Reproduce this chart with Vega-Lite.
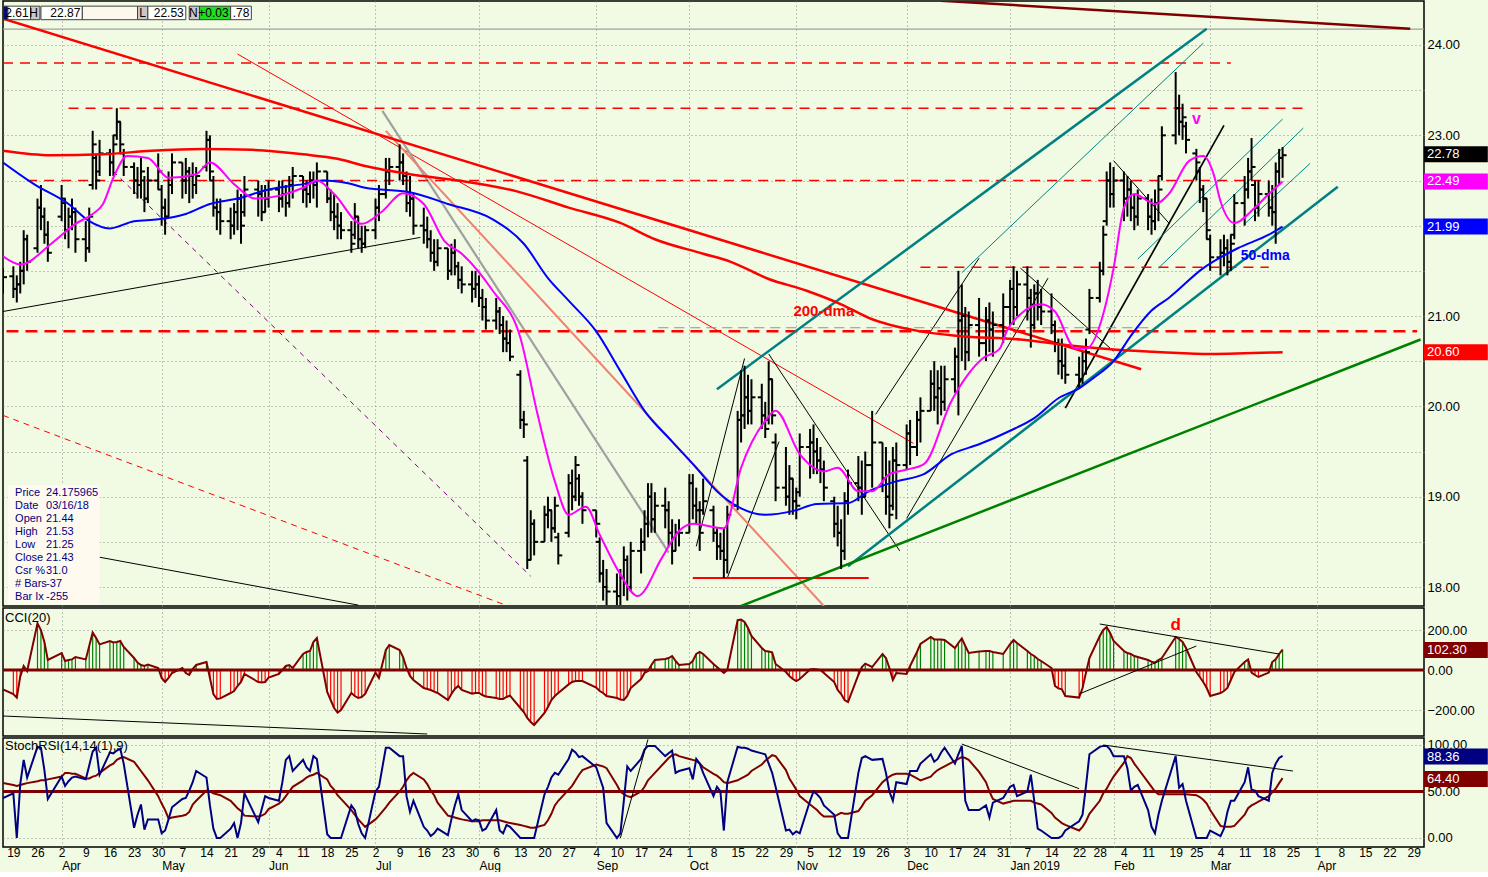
{
"$schema":"https://vega.github.io/schema/vega-lite/v6.json",
"padding":0,
"background":"#F1FBE3",
"spacing":0,
"config":{"view":{"stroke":"#000000","strokeWidth":1.5},"font":"Liberation Sans","axis":{"labelFont":"Liberation Sans","labelFontSize":13,"labelColor":"#000000"},"text":{"font":"Liberation Sans"}},
"datasets":{
"px":[
{"d":"2018-03-16","o":21.44,"h":21.53,"l":21.25,"c":21.43,"i":-97,"k":43,"s":59},
{"d":"2018-03-19","o":21.44,"h":21.55,"l":21.2,"c":21.3,"i":-120,"k":48,"s":57},
{"d":"2018-03-20","o":21.3,"h":21.45,"l":21.15,"c":21.35,"i":-138,"k":0,"s":56},
{"d":"2018-03-21","o":21.35,"h":21.6,"l":21.25,"c":21.5,"i":-33,"k":58,"s":57},
{"d":"2018-03-22","o":21.5,"h":21.95,"l":21.35,"c":21.85,"i":20,"k":84,"s":58},
{"d":"2018-03-23","o":21.85,"h":21.9,"l":21.5,"c":21.6,"i":-5,"k":65,"s":59},
{"d":"2018-03-26","o":21.75,"h":22.3,"l":21.7,"c":22.2,"i":233,"k":98,"s":61},
{"d":"2018-03-27","o":22.2,"h":22.45,"l":21.95,"c":22.1,"i":200,"k":97,"s":62},
{"d":"2018-03-28","o":22.1,"h":22.2,"l":21.8,"c":21.9,"i":140,"k":73,"s":62},
{"d":"2018-03-29","o":21.9,"h":22.05,"l":21.6,"c":21.7,"i":50,"k":42,"s":63},
{"d":"2018-04-02","o":22.1,"h":22.45,"l":22.05,"c":22.3,"i":85,"k":66,"s":66},
{"d":"2018-04-03","o":22.25,"h":22.3,"l":21.85,"c":21.95,"i":45,"k":56,"s":70},
{"d":"2018-04-04","o":21.95,"h":22.2,"l":21.75,"c":22.1,"i":50,"k":61,"s":70},
{"d":"2018-04-05","o":22.1,"h":22.3,"l":21.95,"c":22.15,"i":53,"k":65,"s":69},
{"d":"2018-04-06","o":22.15,"h":22.2,"l":21.7,"c":21.85,"i":65,"k":66,"s":69},
{"d":"2018-04-09","o":21.85,"h":22.05,"l":21.6,"c":21.75,"i":53,"k":63,"s":64},
{"d":"2018-04-10","o":21.75,"h":22.2,"l":21.7,"c":22.1,"i":120,"k":78,"s":64},
{"d":"2018-04-11","o":22.45,"h":23.05,"l":22.4,"c":22.9,"i":187,"k":93,"s":66},
{"d":"2018-04-12","o":22.75,"h":22.8,"l":22.4,"c":22.5,"i":160,"k":97,"s":67},
{"d":"2018-04-13","o":22.6,"h":22.95,"l":22.55,"c":22.8,"i":128,"k":68,"s":70},
{"d":"2018-04-16","o":22.8,"h":22.85,"l":22.55,"c":22.7,"i":145,"k":92,"s":78},
{"d":"2018-04-17","o":22.7,"h":23.0,"l":22.55,"c":22.9,"i":138,"k":91,"s":80},
{"d":"2018-04-18","o":23.0,"h":23.3,"l":22.95,"c":23.15,"i":140,"k":94,"s":84},
{"d":"2018-04-19","o":23.15,"h":23.15,"l":22.8,"c":22.9,"i":145,"k":96,"s":86},
{"d":"2018-04-20","o":22.8,"h":22.85,"l":22.55,"c":22.65,"i":115,"k":80,"s":87},
{"d":"2018-04-23","o":22.65,"h":22.7,"l":22.35,"c":22.5,"i":60,"k":11,"s":82},
{"d":"2018-04-24","o":22.5,"h":22.65,"l":22.3,"c":22.45,"i":37,"k":25,"s":77},
{"d":"2018-04-25","o":22.45,"h":22.75,"l":22.3,"c":22.6,"i":25,"k":36,"s":72},
{"d":"2018-04-26","o":22.5,"h":22.55,"l":22.15,"c":22.3,"i":20,"k":9,"s":67},
{"d":"2018-04-27","o":22.3,"h":22.65,"l":22.25,"c":22.5,"i":27,"k":20,"s":62},
{"d":"2018-04-30","o":22.5,"h":22.8,"l":22.4,"c":22.6,"i":10,"k":20,"s":45},
{"d":"2018-05-01","o":22.4,"h":22.45,"l":22.0,"c":22.2,"i":-40,"k":5,"s":37},
{"d":"2018-05-02","o":22.2,"h":22.3,"l":21.9,"c":22.1,"i":-60,"k":8,"s":30},
{"d":"2018-05-03","o":22.1,"h":22.6,"l":22.1,"c":22.45,"i":-40,"k":20,"s":21},
{"d":"2018-05-04","o":22.45,"h":22.8,"l":22.35,"c":22.7,"i":-15,"k":33,"s":22},
{"d":"2018-05-07","o":22.7,"h":22.7,"l":22.3,"c":22.5,"i":10,"k":42,"s":24},
{"d":"2018-05-08","o":22.5,"h":22.75,"l":22.35,"c":22.6,"i":-15,"k":43,"s":25},
{"d":"2018-05-09","o":22.6,"h":22.65,"l":22.25,"c":22.55,"i":-25,"k":51,"s":28},
{"d":"2018-05-10","o":22.55,"h":22.7,"l":22.3,"c":22.45,"i":5,"k":60,"s":36},
{"d":"2018-05-11","o":22.45,"h":22.65,"l":22.35,"c":22.55,"i":25,"k":72,"s":40},
{"d":"2018-05-14","o":22.65,"h":23.05,"l":22.6,"c":22.95,"i":40,"k":65,"s":51},
{"d":"2018-05-15","o":22.95,"h":23.0,"l":22.5,"c":22.6,"i":-40,"k":35,"s":50},
{"d":"2018-05-16","o":22.5,"h":22.55,"l":22.1,"c":22.2,"i":-120,"k":10,"s":48},
{"d":"2018-05-17","o":22.2,"h":22.3,"l":21.95,"c":22.15,"i":-145,"k":0,"s":47},
{"d":"2018-05-18","o":22.15,"h":22.3,"l":21.9,"c":22.05,"i":-142,"k":0,"s":46},
{"d":"2018-05-21","o":22.05,"h":22.2,"l":21.85,"c":22.0,"i":-115,"k":10,"s":40},
{"d":"2018-05-22","o":22.0,"h":22.25,"l":21.9,"c":22.15,"i":-105,"k":16,"s":36},
{"d":"2018-05-23","o":22.15,"h":22.4,"l":21.95,"c":22.3,"i":-80,"k":0,"s":32},
{"d":"2018-05-24","o":22.3,"h":22.35,"l":21.8,"c":22.0,"i":-60,"k":16,"s":29},
{"d":"2018-05-25","o":22.15,"h":22.55,"l":22.1,"c":22.4,"i":-20,"k":48,"s":24},
{"d":"2018-05-29","o":22.4,"h":22.5,"l":22.1,"c":22.35,"i":-60,"k":17,"s":23},
{"d":"2018-05-30","o":22.35,"h":22.45,"l":22.05,"c":22.15,"i":-63,"k":31,"s":24},
{"d":"2018-05-31","o":22.15,"h":22.45,"l":22.15,"c":22.3,"i":-60,"k":45,"s":26},
{"d":"2018-06-01","o":22.3,"h":22.5,"l":22.2,"c":22.4,"i":-38,"k":43,"s":31},
{"d":"2018-06-04","o":22.4,"h":22.5,"l":22.15,"c":22.3,"i":-20,"k":40,"s":37},
{"d":"2018-06-05","o":22.3,"h":22.5,"l":22.2,"c":22.35,"i":0,"k":60,"s":40},
{"d":"2018-06-06","o":22.35,"h":22.45,"l":22.1,"c":22.25,"i":20,"k":84,"s":45},
{"d":"2018-06-07","o":22.25,"h":22.55,"l":22.2,"c":22.45,"i":25,"k":88,"s":50},
{"d":"2018-06-08","o":22.45,"h":22.65,"l":22.3,"c":22.55,"i":10,"k":72,"s":55},
{"d":"2018-06-11","o":22.55,"h":22.55,"l":22.25,"c":22.4,"i":80,"k":84,"s":62},
{"d":"2018-06-12","o":22.4,"h":22.5,"l":22.2,"c":22.35,"i":90,"k":76,"s":65},
{"d":"2018-06-13","o":22.35,"h":22.6,"l":22.25,"c":22.5,"i":95,"k":72,"s":67},
{"d":"2018-06-14","o":22.5,"h":22.6,"l":22.3,"c":22.45,"i":140,"k":88,"s":68},
{"d":"2018-06-15","o":22.45,"h":22.7,"l":22.2,"c":22.6,"i":160,"k":85,"s":70},
{"d":"2018-06-18","o":22.6,"h":22.6,"l":22.25,"c":22.3,"i":-110,"k":4,"s":63},
{"d":"2018-06-19","o":22.3,"h":22.4,"l":22.05,"c":22.15,"i":-150,"k":0,"s":56},
{"d":"2018-06-20","o":22.15,"h":22.35,"l":21.95,"c":22.1,"i":-190,"k":0,"s":52},
{"d":"2018-06-21","o":22.1,"h":22.25,"l":21.85,"c":22.0,"i":-213,"k":0,"s":46},
{"d":"2018-06-22","o":22.0,"h":22.15,"l":21.85,"c":21.95,"i":-200,"k":0,"s":42},
{"d":"2018-06-25","o":21.95,"h":22.05,"l":21.7,"c":21.8,"i":-115,"k":35,"s":30},
{"d":"2018-06-26","o":21.9,"h":22.25,"l":21.85,"c":22.1,"i":-130,"k":30,"s":25},
{"d":"2018-06-27","o":22.1,"h":22.1,"l":21.75,"c":21.85,"i":-140,"k":15,"s":20},
{"d":"2018-06-28","o":21.85,"h":22.0,"l":21.7,"c":21.8,"i":-135,"k":5,"s":16},
{"d":"2018-06-29","o":21.8,"h":22.0,"l":21.75,"c":21.95,"i":-120,"k":0,"s":12},
{"d":"2018-07-02","o":21.95,"h":22.3,"l":21.85,"c":22.2,"i":-13,"k":50,"s":20},
{"d":"2018-07-03","o":22.2,"h":22.45,"l":22.05,"c":22.35,"i":-40,"k":55,"s":24},
{"d":"2018-07-05","o":22.35,"h":22.75,"l":22.3,"c":22.6,"i":100,"k":97,"s":33},
{"d":"2018-07-06","o":22.6,"h":22.75,"l":22.45,"c":22.65,"i":125,"k":97,"s":38},
{"d":"2018-07-09","o":22.65,"h":22.9,"l":22.5,"c":22.7,"i":100,"k":88,"s":50},
{"d":"2018-07-10","o":22.7,"h":22.8,"l":22.45,"c":22.55,"i":65,"k":88,"s":55},
{"d":"2018-07-11","o":22.55,"h":22.6,"l":22.15,"c":22.25,"i":10,"k":45,"s":62},
{"d":"2018-07-12","o":22.25,"h":22.55,"l":22.1,"c":22.3,"i":-30,"k":28,"s":67},
{"d":"2018-07-13","o":22.3,"h":22.35,"l":21.9,"c":22.0,"i":-50,"k":40,"s":70},
{"d":"2018-07-16","o":22.0,"h":22.2,"l":21.8,"c":21.95,"i":-90,"k":12,"s":63},
{"d":"2018-07-17","o":21.95,"h":22.1,"l":21.75,"c":21.85,"i":-95,"k":8,"s":58},
{"d":"2018-07-18","o":21.85,"h":21.95,"l":21.6,"c":21.7,"i":-100,"k":2,"s":51},
{"d":"2018-07-19","o":21.7,"h":21.85,"l":21.5,"c":21.6,"i":-108,"k":5,"s":46},
{"d":"2018-07-20","o":21.6,"h":21.85,"l":21.55,"c":21.75,"i":-115,"k":10,"s":38},
{"d":"2018-07-23","o":21.75,"h":21.75,"l":21.4,"c":21.5,"i":-150,"k":3,"s":24},
{"d":"2018-07-24","o":21.5,"h":21.8,"l":21.45,"c":21.7,"i":-120,"k":20,"s":23},
{"d":"2018-07-25","o":21.7,"h":21.85,"l":21.45,"c":21.55,"i":-95,"k":35,"s":22},
{"d":"2018-07-26","o":21.55,"h":21.6,"l":21.3,"c":21.4,"i":-80,"k":47,"s":21},
{"d":"2018-07-27","o":21.4,"h":21.55,"l":21.25,"c":21.35,"i":-100,"k":30,"s":20},
{"d":"2018-07-30","o":21.35,"h":21.5,"l":21.15,"c":21.3,"i":-118,"k":18,"s":18},
{"d":"2018-07-31","o":21.3,"h":21.5,"l":21.2,"c":21.35,"i":-115,"k":20,"s":18},
{"d":"2018-08-01","o":21.35,"h":21.45,"l":21.1,"c":21.2,"i":-115,"k":19,"s":18},
{"d":"2018-08-02","o":21.2,"h":21.3,"l":20.95,"c":21.1,"i":-125,"k":8,"s":19},
{"d":"2018-08-03","o":21.1,"h":21.2,"l":20.85,"c":20.95,"i":-133,"k":10,"s":19},
{"d":"2018-08-06","o":20.95,"h":21.2,"l":20.85,"c":21.05,"i":-140,"k":30,"s":19},
{"d":"2018-08-07","o":21.05,"h":21.1,"l":20.8,"c":20.9,"i":-145,"k":8,"s":19},
{"d":"2018-08-08","o":20.9,"h":21.0,"l":20.6,"c":20.75,"i":-145,"k":5,"s":18},
{"d":"2018-08-09","o":20.75,"h":20.95,"l":20.6,"c":20.7,"i":-135,"k":14,"s":17},
{"d":"2018-08-10","o":20.7,"h":20.85,"l":20.5,"c":20.55,"i":-128,"k":12,"s":16},
{"d":"2018-08-13","o":20.35,"h":20.4,"l":19.75,"c":19.85,"i":-190,"k":0,"s":14},
{"d":"2018-08-14","o":19.85,"h":19.95,"l":19.65,"c":19.8,"i":-210,"k":0,"s":13},
{"d":"2018-08-15","o":19.4,"h":19.45,"l":18.2,"c":18.3,"i":-240,"k":0,"s":12},
{"d":"2018-08-16","o":18.3,"h":18.85,"l":18.3,"c":18.7,"i":-260,"k":0,"s":11},
{"d":"2018-08-17","o":18.7,"h":18.75,"l":18.35,"c":18.5,"i":-275,"k":0,"s":11},
{"d":"2018-08-20","o":18.5,"h":18.9,"l":18.5,"c":18.8,"i":-215,"k":47,"s":14},
{"d":"2018-08-21","o":18.8,"h":19.0,"l":18.65,"c":18.85,"i":-185,"k":55,"s":19},
{"d":"2018-08-22","o":18.85,"h":18.85,"l":18.5,"c":18.65,"i":-150,"k":65,"s":26},
{"d":"2018-08-23","o":18.65,"h":19.0,"l":18.6,"c":18.9,"i":-130,"k":70,"s":35},
{"d":"2018-08-24","o":18.55,"h":18.6,"l":18.25,"c":18.35,"i":-115,"k":68,"s":40},
{"d":"2018-08-27","o":18.6,"h":19.25,"l":18.55,"c":19.15,"i":-72,"k":85,"s":52},
{"d":"2018-08-28","o":19.15,"h":19.3,"l":18.85,"c":19.0,"i":-60,"k":95,"s":56},
{"d":"2018-08-29","o":19.0,"h":19.45,"l":18.95,"c":19.35,"i":-55,"k":92,"s":62},
{"d":"2018-08-30","o":19.2,"h":19.25,"l":18.9,"c":19.0,"i":-55,"k":87,"s":68},
{"d":"2018-08-31","o":19.0,"h":19.05,"l":18.7,"c":18.85,"i":-55,"k":88,"s":73},
{"d":"2018-09-04","o":18.85,"h":18.85,"l":18.55,"c":18.7,"i":-88,"k":76,"s":79},
{"d":"2018-09-05","o":18.5,"h":18.55,"l":18.05,"c":18.15,"i":-105,"k":65,"s":78},
{"d":"2018-09-06","o":18.15,"h":18.3,"l":17.85,"c":18.0,"i":-115,"k":54,"s":77},
{"d":"2018-09-07","o":18.0,"h":18.2,"l":17.8,"c":17.95,"i":-130,"k":16,"s":75},
{"d":"2018-09-10","o":17.95,"h":18.15,"l":17.8,"c":17.9,"i":-140,"k":0,"s":57},
{"d":"2018-09-11","o":17.9,"h":18.2,"l":17.8,"c":18.1,"i":-148,"k":5,"s":50},
{"d":"2018-09-12","o":18.1,"h":18.45,"l":17.9,"c":18.3,"i":-150,"k":40,"s":47},
{"d":"2018-09-13","o":18.3,"h":18.35,"l":17.85,"c":18.0,"i":-130,"k":77,"s":45},
{"d":"2018-09-14","o":18.0,"h":18.5,"l":17.95,"c":18.4,"i":-90,"k":72,"s":44},
{"d":"2018-09-17","o":18.4,"h":18.65,"l":18.15,"c":18.5,"i":-45,"k":85,"s":50},
{"d":"2018-09-18","o":18.5,"h":18.85,"l":18.4,"c":18.7,"i":-15,"k":95,"s":55},
{"d":"2018-09-19","o":18.7,"h":19.15,"l":18.55,"c":19.0,"i":-5,"k":99,"s":62},
{"d":"2018-09-20","o":19.0,"h":19.15,"l":18.6,"c":18.75,"i":25,"k":99,"s":66},
{"d":"2018-09-21","o":18.75,"h":19.05,"l":18.6,"c":18.9,"i":50,"k":99,"s":70},
{"d":"2018-09-24","o":18.9,"h":19.1,"l":18.65,"c":18.85,"i":55,"k":88,"s":82},
{"d":"2018-09-25","o":18.85,"h":18.95,"l":18.45,"c":18.6,"i":60,"k":91,"s":86},
{"d":"2018-09-26","o":18.6,"h":18.75,"l":18.25,"c":18.4,"i":70,"k":94,"s":89},
{"d":"2018-09-27","o":18.4,"h":18.7,"l":18.4,"c":18.6,"i":45,"k":70,"s":90},
{"d":"2018-09-28","o":18.6,"h":18.75,"l":18.45,"c":18.6,"i":25,"k":72,"s":88},
{"d":"2018-10-01","o":18.6,"h":19.25,"l":18.6,"c":19.15,"i":30,"k":75,"s":85},
{"d":"2018-10-02","o":19.15,"h":19.25,"l":18.75,"c":18.9,"i":45,"k":63,"s":84},
{"d":"2018-10-03","o":18.9,"h":19.1,"l":18.7,"c":18.85,"i":80,"k":85,"s":83},
{"d":"2018-10-04","o":18.85,"h":18.95,"l":18.4,"c":18.6,"i":90,"k":80,"s":80},
{"d":"2018-10-05","o":18.85,"h":19.2,"l":18.8,"c":18.95,"i":80,"k":70,"s":76},
{"d":"2018-10-08","o":18.85,"h":18.9,"l":18.5,"c":18.6,"i":30,"k":45,"s":69},
{"d":"2018-10-09","o":18.6,"h":18.65,"l":18.3,"c":18.45,"i":15,"k":55,"s":67},
{"d":"2018-10-10","o":18.45,"h":18.6,"l":18.3,"c":18.4,"i":0,"k":50,"s":64},
{"d":"2018-10-11","o":18.4,"h":18.65,"l":18.1,"c":18.3,"i":-15,"k":8,"s":60},
{"d":"2018-10-12","o":18.3,"h":18.9,"l":18.15,"c":18.8,"i":0,"k":60,"s":59},
{"d":"2018-10-15","o":18.9,"h":19.95,"l":18.85,"c":19.85,"i":249,"k":98,"s":62},
{"d":"2018-10-16","o":19.85,"h":20.4,"l":19.6,"c":19.9,"i":252,"k":97,"s":64},
{"d":"2018-10-17","o":19.9,"h":20.45,"l":19.75,"c":20.1,"i":240,"k":97,"s":66},
{"d":"2018-10-18","o":20.1,"h":20.35,"l":19.8,"c":19.95,"i":210,"k":96,"s":68},
{"d":"2018-10-19","o":19.95,"h":20.3,"l":19.8,"c":20.1,"i":170,"k":94,"s":72},
{"d":"2018-10-22","o":20.1,"h":20.25,"l":19.75,"c":19.9,"i":110,"k":91,"s":79},
{"d":"2018-10-23","o":19.9,"h":20.05,"l":19.65,"c":19.75,"i":95,"k":90,"s":83},
{"d":"2018-10-24","o":19.85,"h":20.5,"l":19.8,"c":20.3,"i":92,"k":80,"s":86},
{"d":"2018-10-25","o":20.3,"h":20.3,"l":19.8,"c":19.9,"i":88,"k":70,"s":89},
{"d":"2018-10-26","o":19.6,"h":19.7,"l":18.95,"c":19.1,"i":30,"k":55,"s":88},
{"d":"2018-10-29","o":19.1,"h":19.55,"l":18.9,"c":19.0,"i":-10,"k":8,"s":73},
{"d":"2018-10-30","o":19.0,"h":19.35,"l":18.8,"c":19.2,"i":-30,"k":9,"s":64},
{"d":"2018-10-31","o":19.2,"h":19.2,"l":18.8,"c":18.95,"i":-45,"k":4,"s":58},
{"d":"2018-11-01","o":18.95,"h":19.1,"l":18.75,"c":18.9,"i":-55,"k":7,"s":52},
{"d":"2018-11-02","o":19.05,"h":19.7,"l":19.0,"c":19.55,"i":-45,"k":5,"s":45},
{"d":"2018-11-05","o":19.55,"h":19.75,"l":19.2,"c":19.6,"i":3,"k":40,"s":36},
{"d":"2018-11-06","o":19.6,"h":19.8,"l":19.25,"c":19.5,"i":5,"k":50,"s":33},
{"d":"2018-11-07","o":19.5,"h":19.65,"l":19.25,"c":19.4,"i":3,"k":47,"s":30},
{"d":"2018-11-08","o":19.4,"h":19.55,"l":19.15,"c":19.3,"i":0,"k":43,"s":26},
{"d":"2018-11-09","o":19.3,"h":19.4,"l":18.95,"c":19.1,"i":-15,"k":35,"s":23},
{"d":"2018-11-12","o":18.95,"h":19.0,"l":18.55,"c":18.7,"i":-60,"k":25,"s":23},
{"d":"2018-11-13","o":18.7,"h":18.9,"l":18.45,"c":18.6,"i":-100,"k":5,"s":25},
{"d":"2018-11-14","o":18.6,"h":18.75,"l":18.2,"c":18.4,"i":-120,"k":0,"s":27},
{"d":"2018-11-15","o":18.4,"h":19.05,"l":18.3,"c":18.95,"i":-150,"k":0,"s":26},
{"d":"2018-11-16","o":18.95,"h":19.3,"l":18.8,"c":19.15,"i":-160,"k":0,"s":26},
{"d":"2018-11-19","o":19.15,"h":19.45,"l":18.95,"c":19.1,"i":-25,"k":70,"s":29},
{"d":"2018-11-20","o":19.1,"h":19.4,"l":18.8,"c":19.0,"i":15,"k":86,"s":34},
{"d":"2018-11-21","o":19.0,"h":19.5,"l":19.0,"c":19.35,"i":32,"k":88,"s":40},
{"d":"2018-11-23","o":19.35,"h":19.95,"l":19.1,"c":19.6,"i":15,"k":84,"s":46},
{"d":"2018-11-26","o":19.6,"h":19.6,"l":19.05,"c":19.2,"i":80,"k":85,"s":60},
{"d":"2018-11-27","o":19.2,"h":19.55,"l":18.8,"c":19.0,"i":60,"k":70,"s":63},
{"d":"2018-11-28","o":19.0,"h":19.4,"l":18.65,"c":18.8,"i":10,"k":50,"s":66},
{"d":"2018-11-29","o":18.9,"h":19.55,"l":18.85,"c":19.4,"i":-50,"k":40,"s":68},
{"d":"2018-11-30","o":19.4,"h":19.6,"l":18.75,"c":19.35,"i":-15,"k":60,"s":69},
{"d":"2018-12-03","o":19.35,"h":19.8,"l":19.3,"c":19.7,"i":-20,"k":58,"s":69},
{"d":"2018-12-04","o":19.7,"h":19.85,"l":19.35,"c":19.55,"i":20,"k":72,"s":68},
{"d":"2018-12-06","o":19.55,"h":19.95,"l":19.45,"c":19.85,"i":90,"k":72,"s":64},
{"d":"2018-12-07","o":19.85,"h":20.1,"l":19.6,"c":19.95,"i":130,"k":80,"s":62},
{"d":"2018-12-10","o":19.95,"h":20.4,"l":19.95,"c":20.25,"i":165,"k":90,"s":66},
{"d":"2018-12-11","o":20.25,"h":20.5,"l":19.95,"c":20.1,"i":153,"k":82,"s":70},
{"d":"2018-12-12","o":20.1,"h":20.4,"l":19.8,"c":20.2,"i":153,"k":85,"s":73},
{"d":"2018-12-13","o":20.2,"h":20.45,"l":19.9,"c":20.05,"i":153,"k":92,"s":75},
{"d":"2018-12-14","o":20.05,"h":20.45,"l":19.95,"c":20.3,"i":150,"k":97,"s":77},
{"d":"2018-12-17","o":20.3,"h":20.65,"l":20.15,"c":20.55,"i":110,"k":80,"s":83},
{"d":"2018-12-18","o":20.55,"h":21.5,"l":19.9,"c":20.95,"i":135,"k":90,"s":85},
{"d":"2018-12-19","o":20.95,"h":21.35,"l":20.5,"c":21.0,"i":158,"k":99,"s":87},
{"d":"2018-12-20","o":21.0,"h":21.1,"l":20.4,"c":20.6,"i":120,"k":40,"s":86},
{"d":"2018-12-21","o":20.6,"h":21.05,"l":20.5,"c":20.9,"i":85,"k":30,"s":84},
{"d":"2018-12-24","o":20.9,"h":21.2,"l":20.55,"c":20.7,"i":93,"k":30,"s":71},
{"d":"2018-12-26","o":20.7,"h":21.1,"l":20.5,"c":20.95,"i":95,"k":35,"s":60},
{"d":"2018-12-27","o":20.95,"h":21.15,"l":20.6,"c":20.85,"i":95,"k":22,"s":50},
{"d":"2018-12-28","o":20.85,"h":21.05,"l":20.55,"c":20.9,"i":90,"k":38,"s":42},
{"d":"2018-12-31","o":20.9,"h":21.25,"l":20.7,"c":21.1,"i":80,"k":43,"s":37},
{"d":"2019-01-02","o":21.1,"h":21.4,"l":20.9,"c":21.3,"i":130,"k":55,"s":39},
{"d":"2019-01-03","o":21.3,"h":21.55,"l":20.9,"c":21.1,"i":150,"k":57,"s":40},
{"d":"2019-01-04","o":21.1,"h":21.5,"l":21.0,"c":21.35,"i":135,"k":45,"s":40},
{"d":"2019-01-07","o":21.35,"h":21.55,"l":20.95,"c":21.2,"i":95,"k":50,"s":40},
{"d":"2019-01-08","o":21.2,"h":21.3,"l":20.65,"c":20.9,"i":80,"k":68,"s":40},
{"d":"2019-01-09","o":20.9,"h":21.35,"l":20.85,"c":21.25,"i":70,"k":40,"s":38},
{"d":"2019-01-10","o":21.25,"h":21.4,"l":20.95,"c":21.1,"i":55,"k":10,"s":37},
{"d":"2019-01-11","o":21.1,"h":21.3,"l":20.9,"c":21.05,"i":45,"k":8,"s":36},
{"d":"2019-01-14","o":21.05,"h":21.25,"l":20.8,"c":20.9,"i":10,"k":0,"s":27},
{"d":"2019-01-15","o":20.9,"h":20.95,"l":20.6,"c":20.7,"i":-80,"k":0,"s":22},
{"d":"2019-01-16","o":20.7,"h":20.75,"l":20.35,"c":20.5,"i":-92,"k":0,"s":19},
{"d":"2019-01-17","o":20.5,"h":20.75,"l":20.3,"c":20.45,"i":-97,"k":2,"s":16},
{"d":"2019-01-18","o":20.45,"h":20.65,"l":20.25,"c":20.35,"i":-130,"k":8,"s":14},
{"d":"2019-01-22","o":20.35,"h":20.55,"l":20.2,"c":20.3,"i":-138,"k":18,"s":8},
{"d":"2019-01-23","o":20.3,"h":20.6,"l":20.25,"c":20.5,"i":-90,"k":25,"s":12},
{"d":"2019-01-24","o":20.5,"h":20.75,"l":20.35,"c":20.6,"i":-13,"k":56,"s":18},
{"d":"2019-01-25","o":20.85,"h":21.3,"l":20.8,"c":21.2,"i":60,"k":90,"s":26},
{"d":"2019-01-28","o":21.2,"h":21.6,"l":21.15,"c":21.5,"i":170,"k":98,"s":40},
{"d":"2019-01-29","o":21.5,"h":22.0,"l":21.45,"c":21.9,"i":200,"k":99,"s":48},
{"d":"2019-01-30","o":22.05,"h":22.6,"l":22.0,"c":22.5,"i":215,"k":99,"s":53},
{"d":"2019-01-31","o":22.5,"h":22.7,"l":22.2,"c":22.35,"i":185,"k":95,"s":60},
{"d":"2019-02-01","o":22.35,"h":22.65,"l":22.2,"c":22.5,"i":145,"k":88,"s":66},
{"d":"2019-02-04","o":22.5,"h":22.6,"l":22.05,"c":22.3,"i":95,"k":88,"s":81},
{"d":"2019-02-05","o":22.3,"h":22.55,"l":22.1,"c":22.4,"i":85,"k":75,"s":88},
{"d":"2019-02-06","o":22.4,"h":22.5,"l":22.05,"c":22.2,"i":80,"k":51,"s":86},
{"d":"2019-02-07","o":22.2,"h":22.35,"l":21.95,"c":22.1,"i":70,"k":55,"s":80},
{"d":"2019-02-08","o":22.1,"h":22.4,"l":22.0,"c":22.3,"i":65,"k":57,"s":75},
{"d":"2019-02-11","o":22.3,"h":22.35,"l":21.95,"c":22.1,"i":50,"k":30,"s":60},
{"d":"2019-02-12","o":22.1,"h":22.3,"l":21.9,"c":22.05,"i":42,"k":12,"s":55},
{"d":"2019-02-13","o":22.05,"h":22.4,"l":21.95,"c":22.25,"i":37,"k":5,"s":50},
{"d":"2019-02-14","o":22.25,"h":22.55,"l":22.05,"c":22.4,"i":50,"k":25,"s":47},
{"d":"2019-02-15","o":22.55,"h":23.1,"l":22.5,"c":23.0,"i":60,"k":40,"s":47},
{"d":"2019-02-19","o":23.0,"h":23.7,"l":22.9,"c":23.3,"i":165,"k":88,"s":47},
{"d":"2019-02-20","o":23.3,"h":23.45,"l":23.0,"c":23.15,"i":155,"k":54,"s":47},
{"d":"2019-02-21","o":23.15,"h":23.35,"l":22.95,"c":23.2,"i":140,"k":58,"s":47},
{"d":"2019-02-22","o":23.1,"h":23.15,"l":22.8,"c":22.95,"i":110,"k":40,"s":47},
{"d":"2019-02-25","o":22.8,"h":22.85,"l":22.5,"c":22.7,"i":-10,"k":0,"s":46},
{"d":"2019-02-26","o":22.6,"h":22.65,"l":22.25,"c":22.4,"i":-35,"k":0,"s":44},
{"d":"2019-02-27","o":22.4,"h":22.45,"l":22.15,"c":22.3,"i":-60,"k":0,"s":41},
{"d":"2019-02-28","o":22.3,"h":22.3,"l":21.85,"c":21.95,"i":-90,"k":0,"s":37},
{"d":"2019-03-01","o":21.85,"h":21.9,"l":21.5,"c":21.65,"i":-130,"k":8,"s":30},
{"d":"2019-03-04","o":21.65,"h":21.85,"l":21.45,"c":21.7,"i":-115,"k":2,"s":13},
{"d":"2019-03-05","o":21.7,"h":21.9,"l":21.55,"c":21.75,"i":-105,"k":10,"s":12},
{"d":"2019-03-06","o":21.75,"h":21.85,"l":21.45,"c":21.6,"i":-90,"k":28,"s":12},
{"d":"2019-03-07","o":21.6,"h":21.9,"l":21.5,"c":21.8,"i":-50,"k":40,"s":12},
{"d":"2019-03-08","o":21.9,"h":22.35,"l":21.85,"c":22.25,"i":-10,"k":40,"s":13},
{"d":"2019-03-11","o":22.25,"h":22.55,"l":22.0,"c":22.4,"i":40,"k":60,"s":25},
{"d":"2019-03-12","o":22.4,"h":22.75,"l":22.3,"c":22.6,"i":53,"k":76,"s":32},
{"d":"2019-03-13","o":22.6,"h":22.97,"l":22.5,"c":22.65,"i":-13,"k":52,"s":35},
{"d":"2019-03-14","o":22.45,"h":22.5,"l":22.05,"c":22.2,"i":-25,"k":51,"s":37},
{"d":"2019-03-15","o":22.2,"h":22.5,"l":22.1,"c":22.35,"i":-35,"k":45,"s":39},
{"d":"2019-03-18","o":22.35,"h":22.5,"l":22.1,"c":22.2,"i":-13,"k":40,"s":45},
{"d":"2019-03-19","o":22.2,"h":22.45,"l":22.0,"c":22.15,"i":40,"k":70,"s":49},
{"d":"2019-03-20","o":22.15,"h":22.7,"l":21.8,"c":22.6,"i":53,"k":80,"s":53},
{"d":"2019-03-21","o":22.6,"h":22.85,"l":22.45,"c":22.75,"i":80,"k":86,"s":59},
{"d":"2019-03-22","o":22.75,"h":22.87,"l":22.53,"c":22.78,"i":102.3,"k":88.36,"s":64.4}
],
"m20":[{"d":"2018-03-16","v":21.66},{"d":"2018-03-21","v":21.57},{"d":"2018-03-30","v":21.8},{"d":"2018-04-06","v":22.02},{"d":"2018-04-11","v":22.13},{"d":"2018-04-14","v":22.24},{"d":"2018-04-17","v":22.53},{"d":"2018-04-21","v":22.77},{"d":"2018-04-27","v":22.75},{"d":"2018-05-03","v":22.53},{"d":"2018-05-11","v":22.57},{"d":"2018-05-15","v":22.7},{"d":"2018-05-22","v":22.46},{"d":"2018-05-28","v":22.3},{"d":"2018-06-04","v":22.33},{"d":"2018-06-11","v":22.42},{"d":"2018-06-15","v":22.5},{"d":"2018-06-20","v":22.35},{"d":"2018-06-28","v":22.02},{"d":"2018-07-04","v":22.16},{"d":"2018-07-10","v":22.36},{"d":"2018-07-16","v":22.24},{"d":"2018-07-22","v":21.83},{"d":"2018-07-27","v":21.69},{"d":"2018-08-05","v":21.28},{"d":"2018-08-13","v":20.76},{"d":"2018-08-18","v":19.91},{"d":"2018-08-23","v":19.17},{"d":"2018-08-27","v":18.8},{"d":"2018-09-01","v":18.89},{"d":"2018-09-05","v":18.58},{"d":"2018-09-11","v":18.14},{"d":"2018-09-16","v":17.9},{"d":"2018-09-23","v":18.32},{"d":"2018-09-28","v":18.62},{"d":"2018-10-02","v":18.7},{"d":"2018-10-11","v":18.65},{"d":"2018-10-16","v":19.32},{"d":"2018-10-23","v":19.84},{"d":"2018-10-26","v":19.95},{"d":"2018-11-02","v":19.47},{"d":"2018-11-09","v":19.28},{"d":"2018-11-13","v":19.32},{"d":"2018-11-19","v":19.06},{"d":"2018-11-23","v":19.06},{"d":"2018-11-28","v":19.25},{"d":"2018-12-03","v":19.3},{"d":"2018-12-08","v":19.36},{"d":"2018-12-16","v":20.06},{"d":"2018-12-25","v":20.53},{"d":"2018-12-30","v":20.64},{"d":"2019-01-01","v":20.83},{"d":"2019-01-05","v":21.02},{"d":"2019-01-11","v":21.13},{"d":"2019-01-15","v":21.05},{"d":"2019-01-21","v":20.64},{"d":"2019-01-24","v":20.64},{"d":"2019-01-30","v":21.17},{"d":"2019-02-01","v":21.53},{"d":"2019-02-04","v":22.2},{"d":"2019-02-07","v":22.35},{"d":"2019-02-13","v":22.24},{"d":"2019-02-17","v":22.35},{"d":"2019-02-23","v":22.72},{"d":"2019-02-27","v":22.77},{"d":"2019-03-02","v":22.57},{"d":"2019-03-04","v":22.27},{"d":"2019-03-08","v":22.03},{"d":"2019-03-14","v":22.2},{"d":"2019-03-18","v":22.35},{"d":"2019-03-22","v":22.49}],
"m50":[{"d":"2018-03-16","v":22.7},{"d":"2018-03-25","v":22.46},{"d":"2018-04-04","v":22.24},{"d":"2018-04-10","v":22.05},{"d":"2018-04-16","v":21.97},{"d":"2018-04-23","v":22.05},{"d":"2018-04-30","v":22.07},{"d":"2018-05-08","v":22.13},{"d":"2018-05-15","v":22.24},{"d":"2018-05-23","v":22.3},{"d":"2018-06-01","v":22.4},{"d":"2018-06-11","v":22.46},{"d":"2018-06-17","v":22.5},{"d":"2018-06-24","v":22.47},{"d":"2018-06-29","v":22.42},{"d":"2018-07-12","v":22.37},{"d":"2018-07-23","v":22.24},{"d":"2018-08-05","v":22.07},{"d":"2018-08-14","v":21.8},{"d":"2018-08-21","v":21.42},{"d":"2018-08-27","v":21.17},{"d":"2018-09-04","v":20.83},{"d":"2018-09-11","v":20.39},{"d":"2018-09-18","v":19.95},{"d":"2018-09-26","v":19.61},{"d":"2018-10-03","v":19.32},{"d":"2018-10-09","v":19.06},{"d":"2018-10-16","v":18.87},{"d":"2018-10-23","v":18.8},{"d":"2018-10-31","v":18.84},{"d":"2018-11-07","v":18.92},{"d":"2018-11-16","v":18.93},{"d":"2018-11-22","v":19.06},{"d":"2018-11-30","v":19.17},{"d":"2018-12-08","v":19.25},{"d":"2018-12-16","v":19.47},{"d":"2018-12-24","v":19.58},{"d":"2019-01-02","v":19.73},{"d":"2019-01-09","v":19.87},{"d":"2019-01-16","v":20.09},{"d":"2019-01-22","v":20.2},{"d":"2019-01-26","v":20.31},{"d":"2019-02-01","v":20.5},{"d":"2019-02-06","v":20.78},{"d":"2019-02-12","v":21.06},{"d":"2019-02-17","v":21.2},{"d":"2019-02-27","v":21.53},{"d":"2019-03-09","v":21.75},{"d":"2019-03-18","v":21.9},{"d":"2019-03-22","v":21.99}],
"m200":[{"d":"2018-03-16","v":22.83},{"d":"2018-03-30","v":22.78},{"d":"2018-04-14","v":22.79},{"d":"2018-04-28","v":22.83},{"d":"2018-05-13","v":22.85},{"d":"2018-05-27","v":22.84},{"d":"2018-06-11","v":22.79},{"d":"2018-06-21","v":22.74},{"d":"2018-06-29","v":22.66},{"d":"2018-07-12","v":22.57},{"d":"2018-07-26","v":22.5},{"d":"2018-08-12","v":22.38},{"d":"2018-08-27","v":22.2},{"d":"2018-09-11","v":22.03},{"d":"2018-09-21","v":21.85},{"d":"2018-10-05","v":21.69},{"d":"2018-10-13","v":21.6},{"d":"2018-10-24","v":21.41},{"d":"2018-11-04","v":21.28},{"d":"2018-11-14","v":21.13},{"d":"2018-11-22","v":20.98},{"d":"2018-12-07","v":20.83},{"d":"2018-12-18","v":20.78},{"d":"2019-01-05","v":20.74},{"d":"2019-01-20","v":20.67},{"d":"2019-02-01","v":20.63},{"d":"2019-02-15","v":20.6},{"d":"2019-03-01","v":20.58},{"d":"2019-03-22","v":20.6}],
"tl":[
{"g":"rt","d1":"2018-03-16","p1":24.29,"d2":"2019-02-09","p2":20.41},
{"g":"mr","d1":"2018-12-13","p1":24.49,"d2":"2019-04-28","p2":24.18},
{"g":"gr","d1":"2018-03-16","p1":24.176,"d2":"2019-05-02","p2":24.176},
{"g":"rd","d1":"2018-03-16","p1":23.8,"d2":"2019-03-07","p2":23.8},
{"g":"rd","d1":"2018-04-04","p1":23.3,"d2":"2019-03-29","p2":23.3},
{"g":"rd","d1":"2018-03-23","p1":22.5,"d2":"2019-03-18","p2":22.5},
{"g":"rd","d1":"2018-12-07","p1":21.54,"d2":"2019-03-18","p2":21.54},
{"g":"rdt","d1":"2018-03-17","p1":20.83,"d2":"2019-04-30","p2":20.83},
{"g":"gd","d1":"2018-09-22","p1":20.87,"d2":"2019-02-14","p2":20.87},
{"g":"tt","d1":"2018-10-09","p1":20.19,"d2":"2019-02-28","p2":24.18},
{"g":"tt","d1":"2018-11-16","p1":18.23,"d2":"2019-04-07","p2":22.43},
{"g":"tn","d1":"2018-12-19","p1":21.48,"d2":"2019-02-27","p2":24.02},
{"g":"tn","d1":"2019-02-08","p1":21.63,"d2":"2019-03-22","p2":23.18},
{"g":"tn","d1":"2019-02-14","p1":21.53,"d2":"2019-03-28","p2":23.08},
{"g":"tn","d1":"2019-03-11","p1":22.02,"d2":"2019-03-30","p2":22.69},
{"g":"gn","d1":"2018-10-16","p1":17.79,"d2":"2019-05-01","p2":20.74},
{"g":"bk","d1":"2018-03-16","p1":21.05,"d2":"2018-07-15","p2":21.87},
{"g":"bk","d1":"2018-04-13","p1":18.33,"d2":"2018-06-27","p2":17.8},
{"g":"bk","d1":"2018-10-03","p1":18.45,"d2":"2018-10-17","p2":20.53},
{"g":"bk","d1":"2018-10-12","p1":18.1,"d2":"2018-10-27","p2":19.61},
{"g":"bk","d1":"2018-10-24","p1":20.58,"d2":"2018-12-01","p2":18.4},
{"g":"bk","d1":"2018-11-24","p1":19.91,"d2":"2018-12-24","p2":21.64},
{"g":"bk","d1":"2018-12-03","p1":18.76,"d2":"2019-01-13","p2":21.42},
{"g":"bk","d1":"2019-01-05","p1":21.53,"d2":"2019-02-01","p2":20.61},
{"g":"bk","d1":"2019-02-01","p1":22.72,"d2":"2019-02-17","p2":22.03},
{"g":"bk2","d1":"2019-01-18","p1":19.98,"d2":"2019-03-05","p2":23.11},
{"g":"gy","d1":"2018-07-04","p1":23.27,"d2":"2018-09-25","p2":18.38},
{"g":"sa","d1":"2018-07-05","p1":23.05,"d2":"2018-11-09","p2":17.79},
{"g":"rn","d1":"2018-05-23","p1":23.9,"d2":"2018-12-05","p2":19.59},
{"g":"pd","d1":"2018-04-17","p1":22.6,"d2":"2018-08-16","p2":18.12},
{"g":"rdl","d1":"2018-03-16","p1":19.9,"d2":"2018-08-08","p2":17.81},
{"g":"rh","d1":"2018-10-02","p1":18.1,"d2":"2018-11-22","p2":18.1}
],
"ctl":[{"d1":"2018-03-16","p1":-230,"d2":"2018-07-17","p2":-320},{"d1":"2019-01-28","p1":230,"d2":"2019-03-21","p2":80},{"d1":"2019-01-22","p1":-120,"d2":"2019-02-25","p2":120}],
"stl":[{"d1":"2018-12-19","p1":101,"d2":"2019-01-22","p2":53},{"d1":"2019-01-29","p1":100,"d2":"2019-03-25","p2":72},{"d1":"2018-09-11","p1":0,"d2":"2018-09-19","p2":106}],
"tags":[{"pn":"p","g":"k","v":22.79,"t":"22.78"},{"pn":"p","g":"m","v":22.49,"t":"22.49"},{"pn":"p","g":"b","v":21.99,"t":"21.99"},{"pn":"p","g":"r","v":20.6,"t":"20.60"},{"pn":"c","g":"mr","v":100,"t":"102.30"},{"pn":"s","g":"nv","v":87.5,"t":"88.36"},{"pn":"s","g":"mr","v":63.4,"t":"64.40"}],
"info":[{"k":"Price","v":"24.175965","p":19.04},{"k":"Date","v":"03/16/18","p":18.9},{"k":"Open","v":"21.44","p":18.75},{"k":"High","v":"21.53","p":18.61},{"k":"Low","v":"21.25","p":18.46},{"k":"Close","v":"21.43","p":18.32},{"k":"Csr %","v":"31.0","p":18.18},{"k":"# Bars","v":"-37","p":18.03},{"k":"Bar Ix","v":"-255","p":17.89}],
"hdr":[{"g":"nv","d1":"2018-03-16","d2":"2018-03-17T10:00","t":""},{"g":"wh","d1":"2018-03-17T10:00","d2":"2018-03-24","t":"2.61"},{"g":"gy","d1":"2018-03-24","d2":"2018-03-26T17:00","t":"H"},{"g":"wh","d1":"2018-03-27","d2":"2018-04-08","t":"22.87"},{"g":"cr","d1":"2018-04-08","d2":"2018-04-24","t":""},{"g":"gy","d1":"2018-04-24","d2":"2018-04-27","t":"L"},{"g":"wh","d1":"2018-04-27","d2":"2018-05-08","t":"22.53"},{"g":"gy","d1":"2018-05-09","d2":"2018-05-12","t":"N"},{"g":"gn","d1":"2018-05-12","d2":"2018-05-21","t":"+0.03"},{"g":"wh","d1":"2018-05-21","d2":"2018-05-27","t":".78"}]
},
"vconcat":[
{"width":1421,"height":605,"layer":[
{"data":{"name":"tl"},"transform":[{"filter":"datum.g=='rdl'"}],"mark":{"type":"rule","color":"#ff0000","strokeWidth":1,"strokeDash":[6,5],"clip":true},"encoding":{"x":{"field":"d1","type":"temporal","title":null,"scale":{"domain":[{"year":2018,"month":3,"date":16},{"year":2019,"month":5,"date":2}]},"axis":{"labels":false,"ticks":false,"domain":false,"grid":true,"gridColor":"#8c8c8c","gridDash":[1,3],"values":[{"year":2018,"month":4,"date":2},{"year":2018,"month":5,"date":1},{"year":2018,"month":6,"date":1},{"year":2018,"month":7,"date":2},{"year":2018,"month":8,"date":1},{"year":2018,"month":9,"date":4},{"year":2018,"month":10,"date":1},{"year":2018,"month":11,"date":1},{"year":2018,"month":12,"date":3},{"year":2019,"month":1,"date":2},{"year":2019,"month":2,"date":1},{"year":2019,"month":3,"date":1},{"year":2019,"month":4,"date":1}]}},"x2":{"field":"d2","title":null},"y":{"field":"p1","type":"quantitative","title":null,"scale":{"domain":[17.79,24.487],"nice":false,"zero":false},"axis":{"orient":"right","values":[18,18.5,19,19.5,20,20.5,21,21.5,22,22.5,23,23.5,24],"format":".2f","labelExpr":"datum.value % 1 == 0 ? datum.label : ''","grid":true,"gridColor":"#8c8c8c","gridDash":[1,3],"ticks":false,"domain":false,"labelPadding":3,"labelOverlap":false}},"y2":{"field":"p2","title":null}}},
{"data":{"name":"tl"},"transform":[{"filter":"datum.g=='pd'"}],"mark":{"type":"rule","color":"#800080","strokeWidth":1,"strokeDash":[5,5],"clip":true},"encoding":{"x":{"field":"d1","type":"temporal","title":null},"x2":{"field":"d2","title":null},"y":{"field":"p1","type":"quantitative","title":null},"y2":{"field":"p2","title":null}}},
{"data":{"name":"tl"},"transform":[{"filter":"datum.g=='rn'"}],"mark":{"type":"rule","color":"#ff0000","strokeWidth":1,"clip":true},"encoding":{"x":{"field":"d1","type":"temporal","title":null},"x2":{"field":"d2","title":null},"y":{"field":"p1","type":"quantitative","title":null},"y2":{"field":"p2","title":null}}},
{"data":{"name":"tl"},"transform":[{"filter":"datum.g=='bk'"}],"mark":{"type":"rule","color":"#000000","strokeWidth":1,"clip":true},"encoding":{"x":{"field":"d1","type":"temporal","title":null},"x2":{"field":"d2","title":null},"y":{"field":"p1","type":"quantitative","title":null},"y2":{"field":"p2","title":null}}},
{"data":{"name":"tl"},"transform":[{"filter":"datum.g=='bk2'"}],"mark":{"type":"rule","color":"#000000","strokeWidth":1.7,"clip":true},"encoding":{"x":{"field":"d1","type":"temporal","title":null},"x2":{"field":"d2","title":null},"y":{"field":"p1","type":"quantitative","title":null},"y2":{"field":"p2","title":null}}},
{"data":{"name":"tl"},"transform":[{"filter":"datum.g=='gy'"}],"mark":{"type":"rule","color":"#a0a0a0","strokeWidth":2.2,"clip":true},"encoding":{"x":{"field":"d1","type":"temporal","title":null},"x2":{"field":"d2","title":null},"y":{"field":"p1","type":"quantitative","title":null},"y2":{"field":"p2","title":null}}},
{"data":{"name":"tl"},"transform":[{"filter":"datum.g=='sa'"}],"mark":{"type":"rule","color":"#f08070","strokeWidth":2,"clip":true},"encoding":{"x":{"field":"d1","type":"temporal","title":null},"x2":{"field":"d2","title":null},"y":{"field":"p1","type":"quantitative","title":null},"y2":{"field":"p2","title":null}}},
{"data":{"name":"tl"},"transform":[{"filter":"datum.g=='rdt'"}],"mark":{"type":"rule","color":"#ff0000","strokeWidth":2.5,"strokeDash":[12,7],"clip":true},"encoding":{"x":{"field":"d1","type":"temporal","title":null},"x2":{"field":"d2","title":null},"y":{"field":"p1","type":"quantitative","title":null},"y2":{"field":"p2","title":null}}},
{"data":{"name":"tl"},"transform":[{"filter":"datum.g=='gd'"}],"mark":{"type":"rule","color":"#909090","strokeWidth":1.2,"strokeDash":[10,6],"clip":true},"encoding":{"x":{"field":"d1","type":"temporal","title":null},"x2":{"field":"d2","title":null},"y":{"field":"p1","type":"quantitative","title":null},"y2":{"field":"p2","title":null}}},
{"data":{"name":"tl"},"transform":[{"filter":"datum.g=='rd'"}],"mark":{"type":"rule","color":"#ff0000","strokeWidth":1.5,"strokeDash":[10,7],"clip":true},"encoding":{"x":{"field":"d1","type":"temporal","title":null},"x2":{"field":"d2","title":null},"y":{"field":"p1","type":"quantitative","title":null},"y2":{"field":"p2","title":null}}},
{"data":{"name":"tl"},"transform":[{"filter":"datum.g=='rh'"}],"mark":{"type":"rule","color":"#ff0000","strokeWidth":2.2,"clip":true},"encoding":{"x":{"field":"d1","type":"temporal","title":null},"x2":{"field":"d2","title":null},"y":{"field":"p1","type":"quantitative","title":null},"y2":{"field":"p2","title":null}}},
{"data":{"name":"tl"},"transform":[{"filter":"datum.g=='gr'"}],"mark":{"type":"rule","color":"#a0a0a0","strokeWidth":1.2,"clip":true},"encoding":{"x":{"field":"d1","type":"temporal","title":null},"x2":{"field":"d2","title":null},"y":{"field":"p1","type":"quantitative","title":null},"y2":{"field":"p2","title":null}}},
{"data":{"name":"tl"},"transform":[{"filter":"datum.g=='mr'"}],"mark":{"type":"rule","color":"#800000","strokeWidth":2.5,"clip":true},"encoding":{"x":{"field":"d1","type":"temporal","title":null},"x2":{"field":"d2","title":null},"y":{"field":"p1","type":"quantitative","title":null},"y2":{"field":"p2","title":null}}},
{"data":{"name":"tl"},"transform":[{"filter":"datum.g=='rt'"}],"mark":{"type":"rule","color":"#ff0000","strokeWidth":2.5,"clip":true},"encoding":{"x":{"field":"d1","type":"temporal","title":null},"x2":{"field":"d2","title":null},"y":{"field":"p1","type":"quantitative","title":null},"y2":{"field":"p2","title":null}}},
{"data":{"name":"tl"},"transform":[{"filter":"datum.g=='tn'"}],"mark":{"type":"rule","color":"#008080","strokeWidth":1,"clip":true},"encoding":{"x":{"field":"d1","type":"temporal","title":null},"x2":{"field":"d2","title":null},"y":{"field":"p1","type":"quantitative","title":null},"y2":{"field":"p2","title":null}}},
{"data":{"name":"tl"},"transform":[{"filter":"datum.g=='tt'"}],"mark":{"type":"rule","color":"#008080","strokeWidth":2.5,"clip":true},"encoding":{"x":{"field":"d1","type":"temporal","title":null},"x2":{"field":"d2","title":null},"y":{"field":"p1","type":"quantitative","title":null},"y2":{"field":"p2","title":null}}},
{"data":{"name":"tl"},"transform":[{"filter":"datum.g=='gn'"}],"mark":{"type":"rule","color":"#008000","strokeWidth":2.5,"clip":true},"encoding":{"x":{"field":"d1","type":"temporal","title":null},"x2":{"field":"d2","title":null},"y":{"field":"p1","type":"quantitative","title":null},"y2":{"field":"p2","title":null}}},
{"data":{"name":"px"},"mark":{"type":"rule","color":"#000000","strokeWidth":2,"clip":true},"encoding":{"x":{"field":"d","type":"temporal","title":null},"y":{"field":"l","type":"quantitative","title":null},"y2":{"field":"h","title":null}}},
{"data":{"name":"px"},"mark":{"type":"tick","orient":"horizontal","size":4,"thickness":2,"xOffset":-2,"color":"#000000","opacity":1,"clip":true},"encoding":{"x":{"field":"d","type":"temporal","title":null},"y":{"field":"o","type":"quantitative","title":null}}},
{"data":{"name":"px"},"mark":{"type":"tick","orient":"horizontal","size":4,"thickness":2,"xOffset":2,"color":"#000000","opacity":1,"clip":true},"encoding":{"x":{"field":"d","type":"temporal","title":null},"y":{"field":"c","type":"quantitative","title":null}}},
{"data":{"name":"m200"},"mark":{"type":"line","color":"#ff0000","strokeWidth":2.5,"interpolate":"monotone","clip":true},"encoding":{"x":{"field":"d","type":"temporal","title":null},"y":{"field":"v","type":"quantitative","title":null}}},
{"data":{"name":"m50"},"mark":{"type":"line","color":"#0000ff","strokeWidth":2,"interpolate":"monotone","clip":true},"encoding":{"x":{"field":"d","type":"temporal","title":null},"y":{"field":"v","type":"quantitative","title":null}}},
{"data":{"name":"m20"},"mark":{"type":"line","color":"#ff00ff","strokeWidth":2,"interpolate":"monotone","clip":true},"encoding":{"x":{"field":"d","type":"temporal","title":null},"y":{"field":"v","type":"quantitative","title":null}}},
{"data":{"values":[{}]},"mark":{"type":"text","text":"200-dma","color":"#ff0000","fontWeight":"bold","fontSize":15},"encoding":{"x":{"datum":{"year":2018,"month":11,"date":9},"type":"temporal","title":null},"y":{"datum":21.05,"type":"quantitative","title":null}}},
{"data":{"values":[{}]},"mark":{"type":"text","text":"50-dma","color":"#0000ff","fontWeight":"bold","fontSize":14},"encoding":{"x":{"datum":{"year":2019,"month":3,"date":17},"type":"temporal","title":null},"y":{"datum":21.66,"type":"quantitative","title":null}}},
{"data":{"values":[{}]},"mark":{"type":"text","text":"v","color":"#ff00ff","fontWeight":"bold","fontSize":16},"encoding":{"x":{"datum":{"year":2019,"month":2,"date":25},"type":"temporal","title":null},"y":{"datum":23.18,"type":"quantitative","title":null}}},
{"data":{"name":"tags"},"transform":[{"filter":"datum.pn=='p'"}],"mark":{"type":"rule","strokeWidth":16,"strokeCap":"butt"},"encoding":{"x":{"datum":{"year":2019,"month":5,"date":2},"type":"temporal","title":null},"x2":{"datum":{"year":2019,"month":5,"date":20,"hours":12}},"y":{"field":"v","type":"quantitative","title":null},"color":{"field":"g","type":"nominal","scale":{"domain":["k","m","b","r","mr","nv"],"range":["#000000","#ff00ff","#0000ff","#ff0000","#800000","#000080"]},"legend":null}}},
{"data":{"name":"tags"},"transform":[{"filter":"datum.pn=='p'"}],"mark":{"type":"text","align":"left","baseline":"middle","dx":3,"fontSize":13,"color":"#ffffff"},"encoding":{"x":{"datum":{"year":2019,"month":5,"date":2},"type":"temporal","title":null},"y":{"field":"v","type":"quantitative","title":null},"text":{"field":"t"}}},
{"data":{"values":[{}]},"mark":{"type":"rect","fill":"#FFFAF0"},"encoding":{"x":{"datum":{"year":2018,"month":3,"date":17,"hours":10},"type":"temporal","title":null},"x2":{"datum":{"year":2018,"month":4,"date":13}},"y":{"datum":19.13,"type":"quantitative","title":null},"y2":{"datum":17.81}}},
{"data":{"name":"info"},"mark":{"type":"text","align":"left","baseline":"middle","fontSize":11,"color":"#000080"},"encoding":{"x":{"datum":{"year":2018,"month":3,"date":19,"hours":12},"type":"temporal","title":null},"y":{"field":"p","type":"quantitative","title":null},"text":{"field":"k"}}},
{"data":{"name":"info"},"mark":{"type":"text","align":"left","baseline":"middle","fontSize":11,"color":"#000080"},"encoding":{"x":{"datum":{"year":2018,"month":3,"date":28,"hours":12},"type":"temporal","title":null},"y":{"field":"p","type":"quantitative","title":null},"text":{"field":"v"}}},
{"data":{"name":"hdr"},"mark":{"type":"rect","stroke":"#404040","strokeWidth":1,"clip":true},"encoding":{"x":{"field":"d1","type":"temporal","title":null},"x2":{"field":"d2","title":null},"y":{"datum":24.43,"type":"quantitative","title":null},"y2":{"datum":24.28},"fill":{"field":"g","type":"nominal","scale":{"domain":["nv","wh","gy","cr","gn"],"range":["#0a0a78","#ffffff","#c8c8c8","#fdf8ee","#22dd22"]},"legend":null}}},
{"data":{"name":"hdr"},"mark":{"type":"text","align":"right","baseline":"middle","dx":-2,"fontSize":12,"color":"#000000"},"encoding":{"x":{"field":"d2","type":"temporal","title":null},"y":{"datum":24.355,"type":"quantitative","title":null},"text":{"field":"t"}}}
]},
{"width":1421,"height":128,"layer":[
{"data":{"name":"px"},"mark":{"type":"rule","strokeWidth":1.2,"clip":true},"encoding":{"x":{"field":"d","type":"temporal","title":null,"scale":{"domain":[{"year":2018,"month":3,"date":16},{"year":2019,"month":5,"date":2}]},"axis":{"labels":false,"ticks":false,"domain":false,"grid":true,"gridColor":"#8c8c8c","gridDash":[1,3],"values":[{"year":2018,"month":4,"date":2},{"year":2018,"month":5,"date":1},{"year":2018,"month":6,"date":1},{"year":2018,"month":7,"date":2},{"year":2018,"month":8,"date":1},{"year":2018,"month":9,"date":4},{"year":2018,"month":10,"date":1},{"year":2018,"month":11,"date":1},{"year":2018,"month":12,"date":3},{"year":2019,"month":1,"date":2},{"year":2019,"month":2,"date":1},{"year":2019,"month":3,"date":1},{"year":2019,"month":4,"date":1}]}},"y":{"field":"i","type":"quantitative","title":null,"scale":{"domain":[-330,310],"nice":false,"zero":false},"axis":{"orient":"right","values":[-200,-100,0,100,200],"format":".2f","labelExpr":"datum.value % 200 == 0 ? datum.label : ''","grid":true,"gridColor":"#8c8c8c","gridDash":[1,3],"ticks":false,"domain":false,"labelPadding":3,"labelOverlap":false}},"y2":{"datum":0},"color":{"condition":{"test":"datum.i > 0","value":"#008000"},"value":"#ff0000"}}},
{"data":{"values":[{}]},"mark":{"type":"rule","color":"#800000","strokeWidth":3},"encoding":{"y":{"datum":0,"type":"quantitative","title":null}}},
{"data":{"name":"px"},"mark":{"type":"line","color":"#800000","strokeWidth":2,"clip":true},"encoding":{"x":{"field":"d","type":"temporal","title":null},"y":{"field":"i","type":"quantitative","title":null}}},
{"data":{"name":"ctl"},"mark":{"type":"rule","color":"#000000","strokeWidth":1,"clip":true},"encoding":{"x":{"field":"d1","type":"temporal","title":null},"x2":{"field":"d2","title":null},"y":{"field":"p1","type":"quantitative","title":null},"y2":{"field":"p2","title":null}}},
{"data":{"values":[{}]},"mark":{"type":"text","text":"d","color":"#ff0000","fontWeight":"bold","fontSize":17},"encoding":{"x":{"datum":{"year":2019,"month":2,"date":19},"type":"temporal","title":null},"y":{"datum":225,"type":"quantitative","title":null}}},
{"data":{"values":[{}]},"mark":{"type":"text","text":"CCI(20)","align":"left","baseline":"middle","dx":2,"fontSize":13,"color":"#000000"},"encoding":{"x":{"datum":{"year":2018,"month":3,"date":16},"type":"temporal","title":null},"y":{"datum":262,"type":"quantitative","title":null}}},
{"data":{"name":"tags"},"transform":[{"filter":"datum.pn=='c'"}],"mark":{"type":"rule","strokeWidth":16,"strokeCap":"butt"},"encoding":{"x":{"datum":{"year":2019,"month":5,"date":2},"type":"temporal","title":null},"x2":{"datum":{"year":2019,"month":5,"date":20,"hours":12}},"y":{"field":"v","type":"quantitative","title":null},"color":{"field":"g","type":"nominal","scale":{"domain":["k","m","b","r","mr","nv"],"range":["#000000","#ff00ff","#0000ff","#ff0000","#800000","#000080"]},"legend":null}}},
{"data":{"name":"tags"},"transform":[{"filter":"datum.pn=='c'"}],"mark":{"type":"text","align":"left","baseline":"middle","dx":3,"fontSize":13,"color":"#ffffff"},"encoding":{"x":{"datum":{"year":2019,"month":5,"date":2},"type":"temporal","title":null},"y":{"field":"v","type":"quantitative","title":null},"text":{"field":"t"}}}
]},
{"width":1421,"height":109,"resolve":{"axis":{"x":"independent"}},"layer":[
{"data":{"values":[{}]},"mark":{"type":"rule","color":"#800000","strokeWidth":3},"encoding":{"y":{"datum":50,"type":"quantitative","title":null,"scale":{"domain":[-9.7,107.5],"nice":false,"zero":false}}}},
{"data":{"name":"px"},"mark":{"type":"line","color":"#800000","strokeWidth":2,"clip":true},"encoding":{"x":{"field":"d","type":"temporal","title":null,"scale":{"domain":[{"year":2018,"month":3,"date":16},{"year":2019,"month":5,"date":2}]},"axis":{"orient":"bottom","values":[{"year":2018,"month":4,"date":2},{"year":2018,"month":5,"date":1},{"year":2018,"month":6,"date":1},{"year":2018,"month":7,"date":2},{"year":2018,"month":8,"date":1},{"year":2018,"month":9,"date":4},{"year":2018,"month":10,"date":1},{"year":2018,"month":11,"date":1},{"year":2018,"month":12,"date":3},{"year":2019,"month":1,"date":2},{"year":2019,"month":2,"date":1},{"year":2019,"month":3,"date":1},{"year":2019,"month":4,"date":1}],"labelExpr":"month(datum.value) == 0 ? timeFormat(datum.value, '%b %Y') : timeFormat(datum.value, '%b')","labelAlign":"left","labelFlush":false,"labelOverlap":false,"ticks":false,"domain":false,"grid":true,"gridColor":"#8c8c8c","gridDash":[1,3],"labelPadding":13,"labelFontSize":12}},"y":{"field":"s","type":"quantitative","title":null,"scale":{"domain":[-9.7,107.5],"nice":false,"zero":false},"axis":{"orient":"right","values":[0,25,50,75,100],"format":".2f","labelExpr":"datum.value % 50 == 0 ? datum.label : ''","grid":true,"gridColor":"#8c8c8c","gridDash":[1,3],"ticks":false,"domain":false,"labelPadding":3,"labelOverlap":false}}}},
{"data":{"name":"px"},"mark":{"type":"line","color":"#000080","strokeWidth":2,"clip":true},"encoding":{"x":{"field":"d","type":"temporal","title":null,"axis":{"orient":"bottom","values":[{"year":2018,"month":3,"date":19},{"year":2018,"month":3,"date":26},{"year":2018,"month":4,"date":2},{"year":2018,"month":4,"date":9},{"year":2018,"month":4,"date":16},{"year":2018,"month":4,"date":23},{"year":2018,"month":4,"date":30},{"year":2018,"month":5,"date":7},{"year":2018,"month":5,"date":14},{"year":2018,"month":5,"date":21},{"year":2018,"month":5,"date":29},{"year":2018,"month":6,"date":4},{"year":2018,"month":6,"date":11},{"year":2018,"month":6,"date":18},{"year":2018,"month":6,"date":25},{"year":2018,"month":7,"date":2},{"year":2018,"month":7,"date":9},{"year":2018,"month":7,"date":16},{"year":2018,"month":7,"date":23},{"year":2018,"month":7,"date":30},{"year":2018,"month":8,"date":6},{"year":2018,"month":8,"date":13},{"year":2018,"month":8,"date":20},{"year":2018,"month":8,"date":27},{"year":2018,"month":9,"date":4},{"year":2018,"month":9,"date":10},{"year":2018,"month":9,"date":17},{"year":2018,"month":9,"date":24},{"year":2018,"month":10,"date":1},{"year":2018,"month":10,"date":8},{"year":2018,"month":10,"date":15},{"year":2018,"month":10,"date":22},{"year":2018,"month":10,"date":29},{"year":2018,"month":11,"date":5},{"year":2018,"month":11,"date":12},{"year":2018,"month":11,"date":19},{"year":2018,"month":11,"date":26},{"year":2018,"month":12,"date":3},{"year":2018,"month":12,"date":10},{"year":2018,"month":12,"date":17},{"year":2018,"month":12,"date":24},{"year":2018,"month":12,"date":31},{"year":2019,"month":1,"date":7},{"year":2019,"month":1,"date":14},{"year":2019,"month":1,"date":22},{"year":2019,"month":1,"date":28},{"year":2019,"month":2,"date":4},{"year":2019,"month":2,"date":11},{"year":2019,"month":2,"date":19},{"year":2019,"month":2,"date":25},{"year":2019,"month":3,"date":4},{"year":2019,"month":3,"date":11},{"year":2019,"month":3,"date":18},{"year":2019,"month":3,"date":25},{"year":2019,"month":4,"date":1},{"year":2019,"month":4,"date":8},{"year":2019,"month":4,"date":15},{"year":2019,"month":4,"date":22},{"year":2019,"month":4,"date":29}],"labelExpr":"timeFormat(datum.value, '%-d')","labelFlush":false,"labelOverlap":false,"ticks":false,"domain":false,"grid":false,"labelPadding":0,"labelFontSize":12}},"y":{"field":"k","type":"quantitative","title":null}}},
{"data":{"name":"stl"},"mark":{"type":"rule","color":"#000000","strokeWidth":1,"clip":true},"encoding":{"x":{"field":"d1","type":"temporal","title":null,"axis":null},"x2":{"field":"d2","title":null},"y":{"field":"p1","type":"quantitative","title":null},"y2":{"field":"p2","title":null}}},
{"data":{"values":[{}]},"mark":{"type":"text","text":"StochRSI(14,14(1),9)","align":"left","baseline":"middle","dx":2,"fontSize":13,"color":"#000000"},"encoding":{"x":{"datum":{"year":2018,"month":3,"date":16},"type":"temporal","title":null,"axis":null},"y":{"datum":99,"type":"quantitative","title":null}}},
{"data":{"name":"tags"},"transform":[{"filter":"datum.pn=='s'"}],"mark":{"type":"rule","strokeWidth":16,"strokeCap":"butt"},"encoding":{"x":{"datum":{"year":2019,"month":5,"date":2},"type":"temporal","title":null,"axis":null},"x2":{"datum":{"year":2019,"month":5,"date":20,"hours":12}},"y":{"field":"v","type":"quantitative","title":null},"color":{"field":"g","type":"nominal","scale":{"domain":["k","m","b","r","mr","nv"],"range":["#000000","#ff00ff","#0000ff","#ff0000","#800000","#000080"]},"legend":null}}},
{"data":{"name":"tags"},"transform":[{"filter":"datum.pn=='s'"}],"mark":{"type":"text","align":"left","baseline":"middle","dx":3,"fontSize":13,"color":"#ffffff"},"encoding":{"x":{"datum":{"year":2019,"month":5,"date":2},"type":"temporal","title":null,"axis":null},"y":{"field":"v","type":"quantitative","title":null},"text":{"field":"t"}}}
]}
]
}
